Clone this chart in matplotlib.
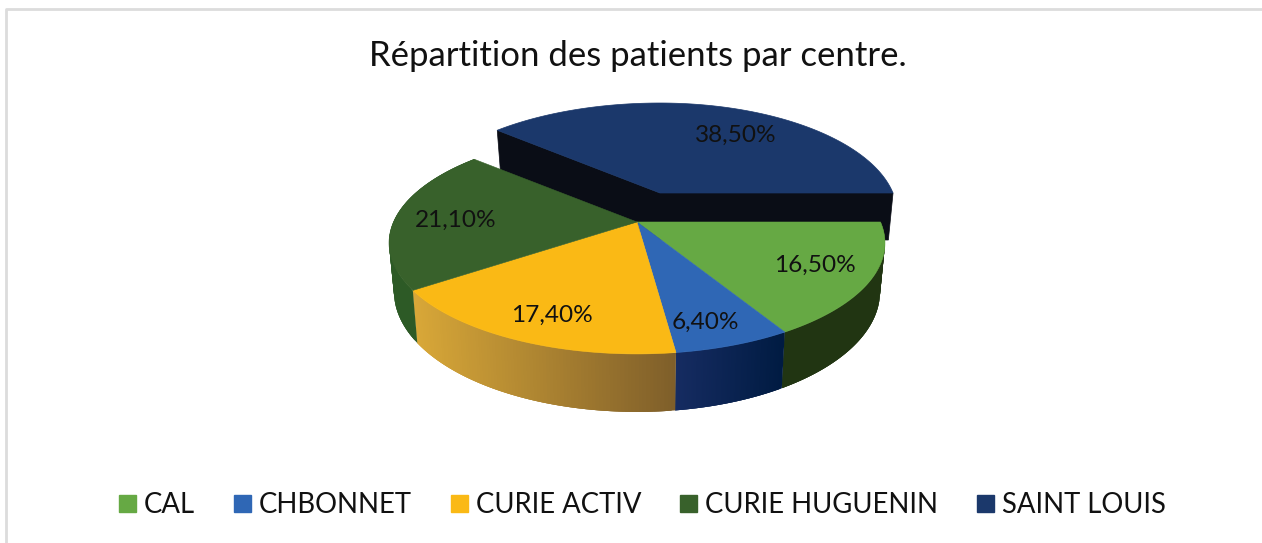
import numpy as np
from matplotlib import pyplot as plt
from matplotlib.colors import to_rgb
from matplotlib.patches import Patch

title = "Répartition des patients par centre."
centres = ["CAL", "CHBONNET", "CURIE ACTIV", "CURIE HUGUENIN", "SAINT LOUIS"]
shares = [16.5, 6.4, 17.4, 21.1, 38.5]

top_colors = ["#66a944", "#2f67b5", "#fab915", "#38612b", "#1b386b"]
side_from = ["#213512", "#162c62", "#d9a838", "#2d5a26", "#0a0d16"]
side_to = ["#213512", "#001b42", "#7f5f2a", "#2d5a26", "#0a0d16"]
label_pos = [(815, 265), (705, 322), (552, 315), (456, 220), (736, 135)]

# pie geometry in pixels, the disc is seen in perspective
cx, cy = 637, 222
a, b, k = 243.5, 107, 0.189
depth = 47
base_shrink = 0.98
shift_x, shift_y = 23, -29
right_squeeze = 0.957


def project(t):
    u, v = np.cos(t), np.sin(t)
    w = 1 - k * v
    return a * u / w, b * v / w, depth / w


def mix(c1, c2, f):
    return tuple((1 - f) * np.array(to_rgb(c1)) + f * np.array(to_rgb(c2)))


plt.rcParams["font.family"] = ["Lato", "DejaVu Sans"]
fig = plt.figure(figsize=(12.62, 5.43), dpi=100)
ax = fig.add_axes([0, 0, 1, 1])
ax.set_xlim(0, 1262)
ax.set_ylim(543, 0)
ax.axis("off")

# chart frame
ax.plot([6, 6, 1262], [543, 9, 9], color="#dcdcdc", lw=2)

edges = np.radians(np.cumsum([0] + shares) / sum(shares) * 360)

# exploded slice first, the others sit in front of it
t = np.linspace(edges[4], edges[5], 150)
x, y, d = project(t)
x = np.where(x > 0, x * right_squeeze, x)
x0, y0 = cx + shift_x, cy + shift_y
for i in [0, -1]:
    ax.fill([x0, x0 + x[i], x0 + x[i] * base_shrink, x0],
            [y0, y0 + y[i], y0 + y[i] + d[i], y0 + depth],
            color=side_from[4], lw=0.5)
ax.fill(np.r_[x0, x0 + x], np.r_[y0, y0 + y], color=top_colors[4], lw=0.5)

# side walls of the main body, strips overlap so no seams show in the gradients
for n in range(4):
    t = np.linspace(edges[n], edges[n + 1], 90)
    x, y, d = project(t)
    span = x.max() - x.min()
    for i in range(len(t) - 1):
        j = min(i + 3, len(t) - 1)
        f = (x[i] - x.min()) / span
        ax.fill([cx + x[i], cx + x[j], cx + x[j] * base_shrink, cx + x[i] * base_shrink],
                [cy + y[i], cy + y[j], cy + y[j] + d[j], cy + y[i] + d[i]],
                color=mix(side_from[n], side_to[n], f), lw=0)

# top faces
for n in range(4):
    t = np.linspace(edges[n], edges[n + 1], 90)
    x, y, d = project(t)
    ax.fill(np.r_[cx, cx + x], np.r_[cy, cy + y], color=top_colors[n], lw=0.4)

for share, (lx, ly) in zip(shares, label_pos):
    ax.text(lx, ly, f"{share:.2f}".replace(".", ",") + "%", ha="center", va="center",
            fontsize=17.6, color="#111111")

ax.text(637.5, 56, title, ha="center", va="center", fontsize=25, color="#111111")

handles = [Patch(color=c) for c in top_colors]
ax.legend(handles, centres, ncol=5, loc="center", bbox_to_anchor=(642.5 / 1262, 1 - 505 / 543),
          frameon=False, fontsize=19.8, handlelength=0.6, handleheight=0.6, handletextpad=0.3,
          columnspacing=1.42, labelcolor="#111111")

plt.savefig("out.png", dpi=100)
